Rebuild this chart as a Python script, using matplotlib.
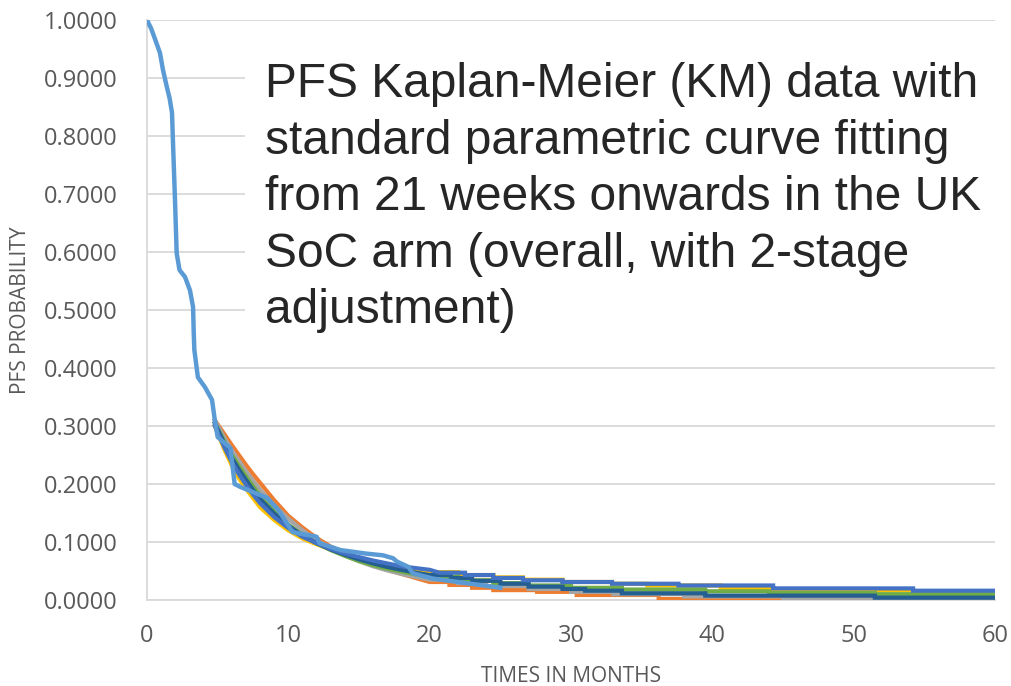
import matplotlib.pyplot as plt
import numpy as np

# KM data (UK SoC arm, 2-stage adjusted)
km_t = [0, 0.3, 0.6, 0.92, 1.13, 1.4, 1.6, 1.77, 1.84, 1.98, 2.1, 2.3, 2.69, 3.04, 3.26,
        3.3, 3.35, 3.6, 4.1, 4.6, 4.8, 5.0, 5.9, 6.2, 6.6, 7.5, 8.5, 9.3, 10.3, 12.0, 12.2,
        13.7, 15.5, 16.7, 17.4, 17.7, 18.5, 18.8, 20.2, 22.6, 25.0]
km_s = [1.0, 0.985, 0.965, 0.943, 0.914, 0.885, 0.865, 0.84, 0.788, 0.69, 0.598, 0.569,
        0.557, 0.534, 0.505, 0.466, 0.431, 0.384, 0.367, 0.345, 0.31, 0.281, 0.262, 0.20,
        0.195, 0.186, 0.176, 0.155, 0.117, 0.109, 0.098, 0.086, 0.080, 0.077, 0.072, 0.066,
        0.057, 0.046, 0.037, 0.029, 0.021]

# fitted curves from 21 weeks, smooth part
fit_t = [4.8, 5.5, 6, 6.5, 7, 7.5, 8, 9, 10, 11, 12, 13, 14, 15, 16, 17, 18, 19, 20]
fit_s = {
    'orange': [0.31, 0.285, 0.267, 0.250, 0.233, 0.217, 0.202, 0.172, 0.145, 0.125, 0.107,
               0.092, 0.080, 0.069, 0.060, 0.052, 0.045, 0.038, 0.031],
    'gray':   [0.31, 0.278, 0.258, 0.240, 0.222, 0.206, 0.190, 0.163, 0.140, 0.120, 0.103,
               0.089, 0.077, 0.067, 0.058, 0.051, 0.045, 0.040, 0.035],
    'yellow': [0.30, 0.258, 0.232, 0.210, 0.192, 0.176, 0.160, 0.138, 0.120, 0.106, 0.096,
               0.087, 0.079, 0.072, 0.066, 0.061, 0.056, 0.052, 0.048],
    'green':  [0.305, 0.272, 0.250, 0.231, 0.213, 0.196, 0.180, 0.153, 0.130, 0.112, 0.098,
               0.086, 0.076, 0.067, 0.060, 0.054, 0.049, 0.044, 0.040],
    'dark':   [0.305, 0.268, 0.245, 0.225, 0.207, 0.190, 0.174, 0.149, 0.128, 0.111, 0.098,
               0.087, 0.078, 0.070, 0.063, 0.057, 0.052, 0.047, 0.043],
    'blue':   [0.30, 0.262, 0.238, 0.217, 0.199, 0.182, 0.167, 0.143, 0.124, 0.109, 0.098,
               0.088, 0.080, 0.074, 0.068, 0.063, 0.058, 0.055, 0.052],
}

# tail steps: change times and levels
tail_t = {
    'orange': [20, 21.4, 23, 24.5, 27.6, 30.4, 36.2, 45.5],
    'gray':   [20, 22, 24, 27, 30, 33, 38, 45, 52],
    'yellow': [20, 22, 24.5, 26.6, 29.4, 32.9, 35.4, 40.6, 44.2, 54.2],
    'green':  [20, 22, 24.5, 27, 30, 33.6, 39.5, 44, 51.5],
    'dark':   [20, 21.5, 23, 25, 27, 29.4, 31, 33.6, 39.5, 51.5],
    'blue':   [20.7, 22.5, 24.5, 26.6, 29.4, 32.9, 37.6, 44.3, 54.2],
}
tail_s = {
    'orange': [0.031, 0.026, 0.021, 0.017, 0.014, 0.0086, 0.0017, 0.0],
    'gray':   [0.035, 0.029, 0.024, 0.019, 0.014, 0.010, 0.006, 0.003, 0.001],
    'yellow': [0.048, 0.043, 0.039, 0.035, 0.031, 0.028, 0.025, 0.021, 0.017, 0.013],
    'green':  [0.040, 0.034, 0.029, 0.025, 0.021, 0.018, 0.015, 0.012, 0.010],
    'dark':   [0.043, 0.038, 0.033, 0.028, 0.023, 0.019, 0.016, 0.0115, 0.0075, 0.004],
    'blue':   [0.047, 0.043, 0.038, 0.034, 0.031, 0.028, 0.025, 0.020, 0.016],
}

colors = {'orange': '#ED7D31', 'gray': '#A5A5A5', 'yellow': '#FFC000',
          'green': '#70AD47', 'dark': '#255E91', 'blue': '#4472C4'}

def stairs(ts, ss, t_end=60):
    x, y = [], []
    for i in range(len(ts)):
        t1 = ts[i + 1] if i + 1 < len(ts) else t_end
        x += [ts[i], t1]
        y += [ss[i], ss[i]]
    return x, y

fig = plt.figure(figsize=(10.11, 6.86), dpi=100)
ax = fig.add_axes([0.1454, 0.1254, 0.8388, 0.8454])

for k in ['orange', 'gray', 'yellow', 'green', 'dark', 'blue']:
    sx, sy = stairs(tail_t[k], tail_s[k])
    x = list(fit_t) + sx
    y = list(fit_s[k]) + sy
    ax.plot(x, y, color=colors[k], lw=3, solid_joinstyle='miter', zorder=3)

ax.plot(km_t, km_s, color='#5B9BD5', lw=3.2, zorder=4)

ax.set_xlim(0, 60)
ax.set_ylim(0, 1.0)
ax.set_xticks(np.arange(0, 61, 10))
ax.set_yticks(np.arange(0, 1.01, 0.1))
ax.set_yticklabels(['%.4f' % v for v in np.arange(0, 1.01, 0.1)])
ax.grid(axis='y', color='#D9D9D9', lw=1.3)
ax.set_axisbelow(True)
for s in ['top', 'right']:
    ax.spines[s].set_visible(False)
for s in ['left', 'bottom']:
    ax.spines[s].set_color('#D9D9D9')
    ax.spines[s].set_linewidth(1.3)
ax.tick_params(length=0, labelsize=17, labelcolor='#595959')
for lab in ax.get_xticklabels() + ax.get_yticklabels():
    lab.set_family(['Open Sans', 'DejaVu Sans'])
ax.tick_params(axis='y', pad=21)
ax.tick_params(axis='x', pad=17)
ax.set_xlabel('TIMES IN MONTHS', fontsize=15, color='#595959', family=['Open Sans', 'DejaVu Sans'], labelpad=13)
ax.set_ylabel('PFS PROBABILITY', fontsize=15, color='#595959', family=['Open Sans', 'DejaVu Sans'], labelpad=9)

fig.text(0.262, 0.712,
         'PFS Kaplan-Meier (KM) data with\nstandard parametric curve fitting\n'
         'from 21 weeks onwards in the UK\nSoC arm (overall, with 2-stage\nadjustment)',
         fontsize=34.5, color='#262626', family=['Liberation Sans', 'DejaVu Sans'],
         ha='left', va='center', linespacing=1.33, zorder=10,
         bbox=dict(boxstyle='square,pad=0.42', facecolor='white', edgecolor='none'))

fig.savefig('out.png', dpi=100)
